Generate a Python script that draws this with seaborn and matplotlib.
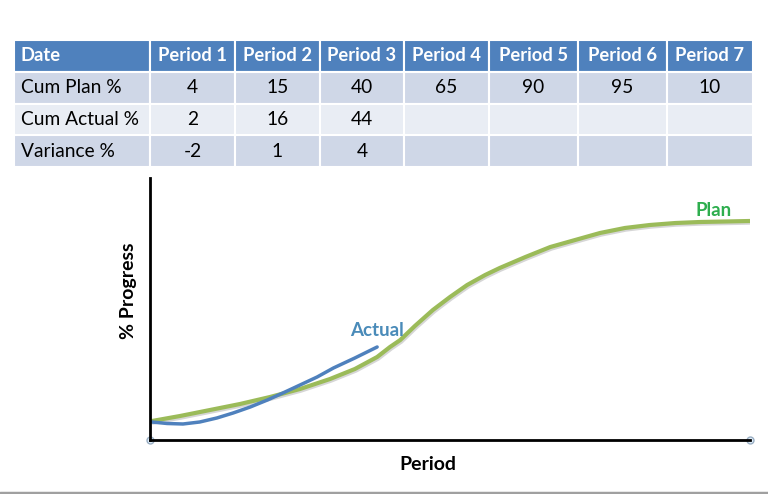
import matplotlib
matplotlib.use("Agg")
import matplotlib.pyplot as plt
import seaborn as sns
import pandas as pd
from matplotlib.lines import Line2D
from matplotlib.transforms import ScaledTranslation

sns.set_theme(style="white")
plt.rcParams['font.family'] = ['Lato', 'DejaVu Sans']

# ---- table data ----
header = ["Date", "Period 1", "Period 2", "Period 3", "Period 4", "Period 5", "Period 6", "Period 7"]
row_labels = ["Cum Plan %", "Cum Actual %", "Variance %"]
cum_plan = ["4", "15", "40", "65", "90", "95", "10"]
cum_actual = ["2", "16", "44", "", "", "", ""]
variance = ["-2", "1", "4", "", "", "", ""]

# ---- schematic curve data (period, % progress) ----
plan_x = [0.023, 0.35, 0.70, 1.05, 1.40, 1.75, 2.10, 2.39, 2.65, 2.80, 2.92, 3.09, 3.30,
          3.50, 3.70, 3.91, 4.08, 4.38, 4.67, 4.96, 5.25, 5.54, 5.83, 6.13, 6.42, 6.71, 7.00]
plan_y = [7.25, 9.16, 11.45, 13.74, 16.41, 19.47, 23.28, 27.10, 31.68, 35.50, 38.17, 43.51, 49.62,
          54.58, 59.16, 62.98, 65.65, 69.85, 73.66, 76.34, 79.01, 80.92, 82.06, 82.82, 83.21, 83.40, 83.59]
actual_x = [0.023, 0.20, 0.385, 0.58, 0.78, 0.97, 1.17, 1.37, 1.55, 1.75, 1.95, 2.14, 2.39, 2.65]
actual_y = [6.87, 6.30, 6.11, 6.87, 8.40, 10.31, 12.60, 15.27, 17.94, 20.99, 24.05, 27.48, 31.30, 35.50]

W, H = 768, 494
fig = plt.figure(figsize=(W / 100, H / 100), dpi=100)
fig.patch.set_facecolor("white")

# ---- table ----
tax = fig.add_axes([14 / W, 1 - 167 / H, 739 / W, 127 / H])
tax.axis("off")
col_px = [136, 85, 85, 84, 85, 89, 89, 86]
col_w = [c / sum(col_px) for c in col_px]
cells = [[row_labels[0]] + cum_plan,
         [row_labels[1]] + cum_actual,
         [row_labels[2]] + variance]
tbl = tax.table(cellText=cells, colLabels=header, colWidths=col_w,
                loc="upper left", bbox=[0, 0, 1, 1], cellLoc="center")
tbl.auto_set_font_size(False)
row_colors = ["#CFD7E7", "#E9EDF4", "#CFD7E7"]
for (r, c), cell in tbl.get_celld().items():
    cell.set_edgecolor("white")
    cell.set_linewidth(1.5)
    txt = cell.get_text()
    txt.set_fontsize(13.2)
    if r == 0:
        cell.set_facecolor("#4F81BD")
        txt.set_color("white")
        txt.set_fontweight("bold")
    else:
        cell.set_facecolor(row_colors[r - 1])
        txt.set_color("black")
        txt.set_fontsize(13.8)
    if c == 0:
        cell.PAD = 0.05
        cell._loc = "left"
        txt.set_ha("left")

# ---- chart ----
ax = fig.add_axes([150 / W, 1 - 440 / H, 600 / W, 262 / H])
df_plan = pd.DataFrame({"Period": plan_x, "Progress": plan_y})
df_act = pd.DataFrame({"Period": actual_x, "Progress": actual_y})
shadow = ax.transData + ScaledTranslation(1 / 100, -1.5 / 100, fig.dpi_scale_trans)
sns.lineplot(data=df_plan, x="Period", y="Progress", ax=ax, color="#BBBBBB",
             lw=3.2, alpha=0.6, estimator=None, sort=False, transform=shadow,
             solid_capstyle="round", solid_joinstyle="round")
sns.lineplot(data=df_plan, x="Period", y="Progress", ax=ax, color="#9BBB59",
             lw=3, estimator=None, sort=False,
             solid_capstyle="round", solid_joinstyle="round")
sns.lineplot(data=df_act, x="Period", y="Progress", ax=ax, color="#4F81BD",
             lw=2.5, estimator=None, sort=False,
             solid_capstyle="round", solid_joinstyle="round")
ax.set_xlim(0, 7)
ax.set_ylim(0, 100)
ax.set_xticks([])
ax.set_yticks([])
ax.set_xlabel("Period", fontsize=14, fontweight="bold", color="black")
ax.set_ylabel("% Progress", fontsize=14, fontweight="bold", color="black")
ax.yaxis.set_label_coords(-0.022, 0.57)
ax.xaxis.set_label_coords(0.463, -0.06)
for s in ["top", "right"]:
    ax.spines[s].set_visible(False)
for s in ["left", "bottom"]:
    ax.spines[s].set_color("black")
    ax.spines[s].set_linewidth(2)
ax.patch.set_alpha(0)

ax.text(actual_x[-1], actual_y[-1] + 3, "Actual", color="#4A8BB9", fontsize=13.5,
        fontweight="bold", ha="center", va="bottom")
ax.text(6.58, plan_y[-2] + 0.8, "Plan", color="#2EAE4E", fontsize=13.5,
        fontweight="bold", ha="center", va="bottom")

# connector end circles
ax.plot([0, 7], [0, 0], ls="none", marker="o", ms=5, mfc="#DDEBF7", mec="#9AAFC4",
        mew=1, clip_on=False)

# bottom grey rule
fig.add_artist(Line2D([0, 1], [1.5 / H, 1.5 / H], color="#A0A0A0", lw=2.5,
                      transform=fig.transFigure))

fig.savefig("out.png", dpi=100)
